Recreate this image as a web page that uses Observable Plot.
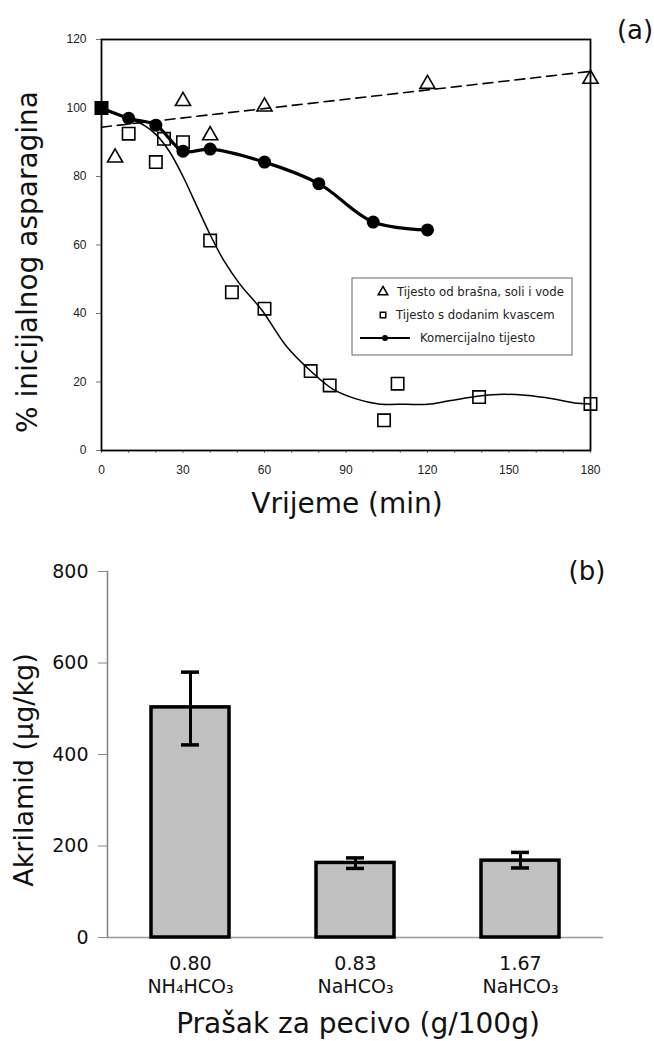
<!DOCTYPE html>
<html><head><meta charset="utf-8">
<script src="https://cdn.jsdelivr.net/npm/d3@7"></script>
<script src="https://cdn.jsdelivr.net/npm/@observablehq/plot@0.6"></script>
<style>
body{margin:0;background:#fff;}
#wrap{position:relative;width:654px;height:1041px;overflow:hidden;background:#fff;}
#a{position:absolute;left:0;top:0;}
#b{position:absolute;left:0;top:540px;}
#ov{position:absolute;left:0;top:0;pointer-events:none;}
#ov text{font-family:"DejaVu Sans",Verdana,sans-serif;fill:#111;}
</style></head><body>
<div id="wrap"><div id="a"></div><div id="b"></div><svg id="ov" width="654" height="1041"></svg></div>
<script>
// ---------- Panel (a) data ----------
const timesTri = [5, 30, 40, 60, 120, 180];
const valsTri  = [85.5, 102, 92, 100.4, 107, 108.5];
const trendTimes = [0, 180];
const trendVals  = [94.4, 110.7];
const timesSq = [0, 10, 20, 23, 30, 40, 48, 60, 77, 84, 104, 109, 139, 180];
const valsSq  = [100, 92.5, 84.2, 91, 90, 61.3, 46.2, 41.4, 23.2, 19, 8.8, 19.5, 15.6, 13.6];
const fitTimes = [0, 10, 16, 20, 25, 30, 35, 40, 45, 51, 59, 68, 77, 85, 94, 102, 112, 120, 128, 139, 148, 156, 166, 174, 180];
const fitVals  = [99.5, 97, 94.8, 92.3, 87.3, 80, 71.5, 63, 55.5, 48.5, 41, 30.5, 23.2, 18, 15, 13.6, 13.5, 13.5, 14.5, 15.9, 16.4, 16.1, 15.1, 13.9, 13.6];
const timesCirc = [0, 10, 20, 30, 40, 60, 80, 100, 120];
const valsCirc  = [100, 97, 95, 87.4, 88, 84.2, 77.9, 66.7, 64.4];
const xTicksA = [0, 30, 60, 90, 120, 150, 180];
const xMinorA = [0,10,20,30,40,50,60,70,80,90,100,110,120,130,140,150,160,170,180];
const yTicksA = [0, 20, 40, 60, 80, 100, 120];
const legendA = ["Tijesto od brašna, soli i vode", "Tijesto s dodanim kvascem", "Komercijalno tijesto"];

// ---------- Panel (b) data ----------
const doses = ["0.80", "0.83", "1.67"];
const agents = ["NH₄HCO₃", "NaHCO₃", "NaHCO₃"];
const acrylamide = [503, 163, 168];
const errLow  = [421, 151, 152];
const errHigh = [580, 174, 186];
const yTicksB = [0, 200, 400, 600, 800];

const zip = (xs, ys) => xs.map((x, i) => ({x, y: ys[i]}));
const triD = zip(timesTri, valsTri);
const trendD = zip(trendTimes, trendVals);
const sqD = zip(timesSq, valsSq);
const fitD = zip(fitTimes, fitVals);
const circD = zip(timesCirc, valsCirc);

const plotA = Plot.plot({
  width: 654, height: 540,
  marginLeft: 101, marginRight: 64, marginTop: 39, marginBottom: 90,
  x: {domain: [0, 180]},
  y: {domain: [0, 120]},
  style: {fontFamily: "'Liberation Sans', Arial, sans-serif", fontSize: "12px", color: "#222", background: "transparent", overflow: "visible"},
  marks: [
    Plot.axisX({ticks: xMinorA, tickSize: 3, tickFormat: () => "", stroke: "#777", label: null}),
    Plot.axisX({ticks: xTicksA, tickSize: 0, tickPadding: 15, label: null}),
    Plot.axisY({ticks: yTicksA, tickSize: 5, tickPadding: 10, stroke: "#777", label: null}),
    Plot.frame({stroke: "#000", strokeWidth: 1.8}),
    Plot.line(trendD, {x: "x", y: "y", stroke: "#000", strokeWidth: 1.6, strokeDasharray: "10,6"}),
    Plot.line(fitD, {x: "x", y: "y", curve: "catmull-rom", stroke: "#000", strokeWidth: 1.5}),
    Plot.line(circD, {x: "x", y: "y", curve: "catmull-rom", stroke: "#000", strokeWidth: 3.2}),
    Plot.dot(triD, {x: "x", y: "y", symbol: "triangle", r: 5.6, stroke: "#000", strokeWidth: 1.6, fill: "none"}),
    Plot.dot(sqD, {x: "x", y: "y", symbol: "square", r: 7, stroke: "#000", strokeWidth: 1.6,
      fill: d => d.x === 0 ? "black" : "none"}),
    Plot.dot(circD, {x: "x", y: "y", r: 6.5, fill: "#000", stroke: "none"})
  ]
});
document.getElementById("a").append(plotA);

const barsD = doses.map((d, i) => ({dose: d, agent: agents[i], v: acrylamide[i], lo: errLow[i], hi: errHigh[i]}));
const plotB = Plot.plot({
  width: 654, height: 501,
  marginLeft: 107, marginRight: 51, marginTop: 31, marginBottom: 104,
  x: {domain: doses, paddingInner: 0.53, paddingOuter: 0.265},
  y: {domain: [0, 800]},
  style: {fontFamily: "'DejaVu Sans', Verdana, sans-serif", fontSize: "18px", color: "#111", background: "transparent", overflow: "visible"},
  marks: [
    Plot.ruleY([0], {stroke: "#999", strokeWidth: 1.6}),
    Plot.barY(barsD, {x: "dose", y: "v", fill: "#c0c0c0", stroke: "#000", strokeWidth: 3.5}),
    Plot.ruleX(barsD, {x: "dose", y1: "lo", y2: "hi", stroke: "#000", strokeWidth: 3}),
    Plot.tickY(barsD, {x: "dose", y: "lo", stroke: "#000", strokeWidth: 3.5, insetLeft: 30, insetRight: 30}),
    Plot.tickY(barsD, {x: "dose", y: "hi", stroke: "#000", strokeWidth: 3.5, insetLeft: 30, insetRight: 30}),
    Plot.axisY({ticks: yTicksB, tickSize: 9, tickPadding: 10, stroke: "#888", label: null, fontSize: 19}),
    Plot.frame({anchor: "left", stroke: "#888", strokeWidth: 1.6}),
    Plot.axisX({tickSize: 0, tickPadding: 15, label: null, fontSize: 19, lineHeight: 1.26,
      tickFormat: d => d + "\n" + agents[doses.indexOf(d)]})
  ]
});
document.getElementById("b").append(plotB);

// ---------- titles & legend overlay ----------
const ov = d3.select("#ov");
ov.append("text").attr("x", 635).attr("y", 39).attr("text-anchor", "middle").attr("font-size", 26).text("(a)");
ov.append("text").attr("transform", "translate(37,262) rotate(-90)").attr("text-anchor", "middle").attr("font-size", 28).text("% inicijalnog asparagina");
ov.append("text").attr("x", 347).attr("y", 513).attr("text-anchor", "middle").attr("font-size", 28).text("Vrijeme (min)");
ov.append("text").attr("x", 587).attr("y", 580).attr("text-anchor", "middle").attr("font-size", 26).text("(b)");
ov.append("text").attr("transform", "translate(33,770) rotate(-90)").attr("text-anchor", "middle").attr("font-size", 27).text("Akrilamid (µg/kg)");
ov.append("text").attr("x", 358).attr("y", 1033).attr("text-anchor", "middle").attr("font-size", 28).text("Prašak za pecivo (g/100g)");

const lg = ov.append("g");
lg.append("rect").attr("x", 352).attr("y", 278).attr("width", 220).attr("height", 77)
  .attr("fill", "#fff").attr("stroke", "#666").attr("stroke-width", 1);
lg.append("path").attr("transform", "translate(383,292)").attr("d", d3.symbol(d3.symbolTriangle, 40)())
  .attr("fill", "none").attr("stroke", "#000").attr("stroke-width", 1.5);
lg.append("path").attr("transform", "translate(383,315)").attr("d", d3.symbol(d3.symbolSquare, 30)())
  .attr("fill", "none").attr("stroke", "#000").attr("stroke-width", 1.5);
lg.append("line").attr("x1", 360).attr("x2", 410).attr("y1", 338).attr("y2", 338).attr("stroke", "#000").attr("stroke-width", 2.2);
lg.append("circle").attr("cx", 385).attr("cy", 338).attr("r", 3).attr("fill", "#000");
[[397, 292], [396, 315], [420, 338]].forEach(([x, y], i) => {
  lg.append("text").attr("x", x).attr("y", y).attr("dy", "0.35em").attr("font-size", 11.7).style("fill", "#222").text(legendA[i]);
});
</script>
</body></html>
